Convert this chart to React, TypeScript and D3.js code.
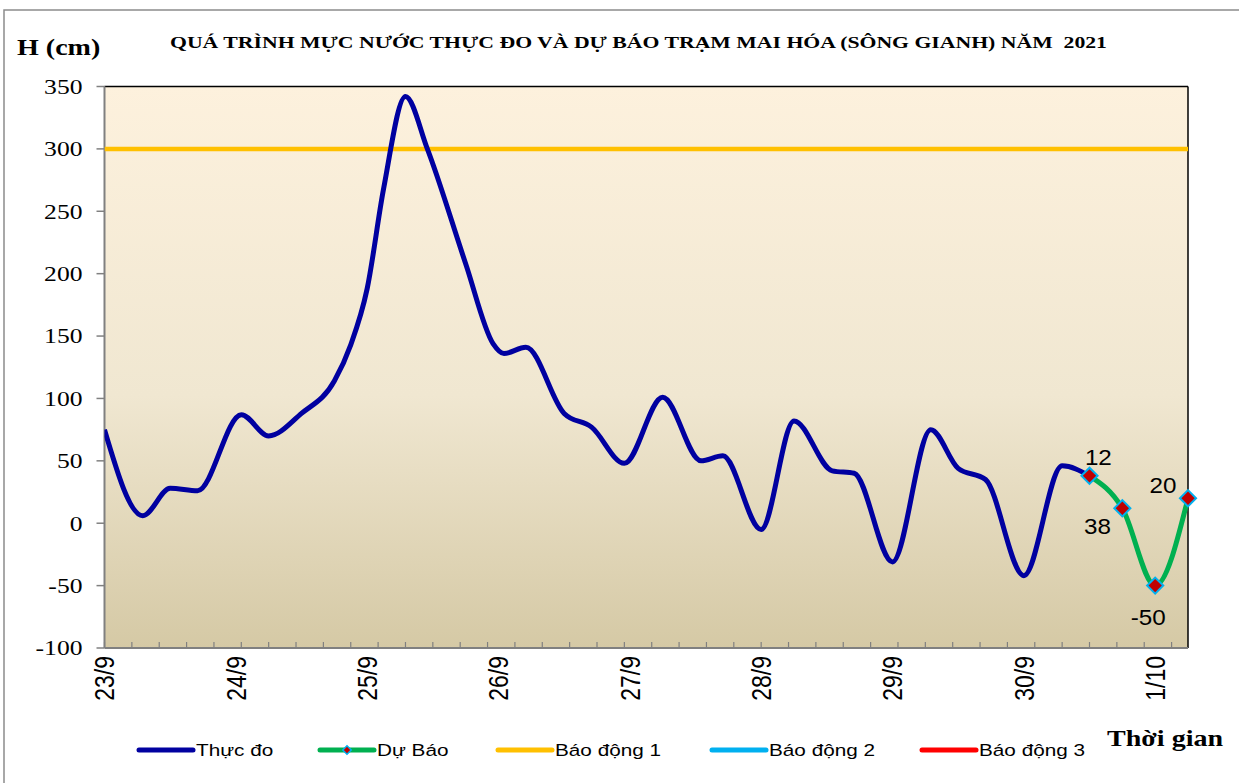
import React from 'react';
import * as d3 from 'd3';

// hours counted from 23/9 00h
const obsHours = [0, 7, 12, 17, 25, 30, 36, 42, 45, 48, 51, 55, 59, 66, 71, 73, 77, 84, 89, 95, 102, 109, 113, 120, 126, 133, 137, 144, 151, 156, 161, 168, 175, 180];
const obsValues = [75, 6, 28, 26, 87, 70, 88, 114, 143, 188, 268, 342, 300, 208, 144, 136, 141, 88, 77, 48, 101, 50, 54, -5, 82, 42, 40, -31, 75, 44, 35, -42, 46, 38];

const fcHours = [180, 186, 192, 198];
const fcValues = [38, 12, -50, 20];

const alarm1 = 300;

const dayLabels = ['23/9', '24/9', '25/9', '26/9', '27/9', '28/9', '29/9', '30/9', '1/10'];
const yTicks = [350, 300, 250, 200, 150, 100, 50, 0, -50, -100];

const legendNames = ['Thực đo', 'Dự Báo', 'Báo động 1', 'Báo động 2', 'Báo động 3'];
const legendColors = ['#0000A0', '#00B050', '#FFC000', '#00B0F0', '#FF0000'];

const W = 1239;
const H = 783;
const L = 104.5;
const R = 1188;
const T = 86.5;
const B = 648;
const SX = 1.22; // picture is stretched horizontally
const SERIF = '"Liberation Serif", "Times New Roman", serif';
const SANS = '"Liberation Sans", Arial, sans-serif';

// where the data labels were dragged to, relative to each forecast point
const labelOffsets = [
  [8, 58],
  [-24, -43],
  [-7, 39],
  [-25, -5],
];
const legendX = [139, 320, 498, 712, 922];

const App: React.FC = () => {
  const x = d3.scaleLinear().domain([0, 198]).range([L, R]);
  const y = d3.scaleLinear().domain([-100, 350]).range([B, T]);

  const line = d3
    .line<number>()
    .x((_, i) => x(obsHours[i]))
    .y((d) => y(d))
    .curve(d3.curveMonotoneX);

  const fcLine = d3
    .line<number>()
    .x((_, i) => x(fcHours[i]))
    .y((d) => y(d))
    .curve(d3.curveMonotoneX);

  const diamond = d3.symbol().type(d3.symbolSquare).size(130)();
  const smallDiamond = d3.symbol().type(d3.symbolSquare).size(36)();
  const minorTicks = d3.range(0, 199, 5);

  return (
    <svg width={W} height={H} style={{ position: 'absolute', left: 0, top: 0 }}>
      <defs>
        <linearGradient id="bg" x1="0" y1="0" x2="0" y2="1">
          <stop offset="0%" stopColor="#FDF1DD" />
          <stop offset="55%" stopColor="#F0E7D1" />
          <stop offset="100%" stopColor="#D5C9A5" />
        </linearGradient>
        <clipPath id="plot">
          <rect x={L} y={T - 5} width={R - L + 6} height={B - T + 5} />
        </clipPath>
      </defs>
      <rect x={0} y={0} width={W} height={H} fill="#fff" />
      <rect x={4} y={10} width={W + 20} height={H + 20} fill="none" stroke="#8c8c8c" strokeWidth={1.5} />

      <rect x={L} y={T} width={R - L} height={B - T} fill="url(#bg)" />

      {/* frame */}
      <line x1={L} x2={R} y1={T} y2={T} stroke="#000" strokeWidth={1.5} />
      <line x1={R} x2={R} y1={T} y2={B} stroke="#000" strokeWidth={1.5} />
      <line x1={L} x2={L} y1={T} y2={B} stroke="#808080" strokeWidth={2} />
      <line x1={L} x2={R} y1={B} y2={B} stroke="#808080" strokeWidth={2} />

      {yTicks.map((t) => (
        <g key={t}>
          <line x1={L - 8} x2={L} y1={y(t)} y2={y(t)} stroke="#808080" strokeWidth={1.5} />
          <text
            transform={`translate(${L - 22},${y(t)}) scale(${SX},1)`}
            dy="0.35em"
            textAnchor="end"
            fontFamily={SERIF}
            fontSize={21}
            fill="#000"
          >
            {t}
          </text>
        </g>
      ))}

      {minorTicks.map((h) => (
        <line key={h} x1={x(h)} x2={x(h)} y1={B} y2={B - 6} stroke="#808080" strokeWidth={1.2} />
      ))}

      {dayLabels.map((d, i) => (
        <text
          key={d}
          transform={`translate(${x(i * 24)},656) scale(1.2,1) rotate(-90)`}
          dy="0.36em"
          textAnchor="end"
          fontFamily={SANS}
          fontSize={23}
          fill="#000"
        >
          {d}
        </text>
      ))}

      <g clipPath="url(#plot)">
        <line x1={L} x2={R} y1={y(alarm1)} y2={y(alarm1)} stroke="#FFC000" strokeWidth={4.5} />
        <path d={line(obsValues) || ''} fill="none" stroke="#0000A0" strokeWidth={5} strokeLinejoin="round" />
      </g>
      <path d={fcLine(fcValues) || ''} fill="none" stroke="#00B050" strokeWidth={5} strokeLinejoin="round" />
      {fcValues.map((v, i) => (
        <path
          key={i}
          d={diamond || ''}
          transform={`translate(${x(fcHours[i])},${y(v)}) rotate(45)`}
          fill="#C00000"
          stroke="#00B0F0"
          strokeWidth={2}
        />
      ))}
      {fcValues.map((v, i) => (
        <text
          key={'l' + i}
          transform={`translate(${x(fcHours[i]) + labelOffsets[i][0]},${y(v) + labelOffsets[i][1]}) scale(1.1,1)`}
          textAnchor="middle"
          fontFamily={SANS}
          fontSize={22}
          fill="#000"
        >
          {v}
        </text>
      ))}

      {/* titles */}
      <text
        transform={`translate(17,55) scale(${SX},1)`}
        fontFamily={SERIF}
        fontWeight="bold"
        fontSize={23}
        fill="#000"
      >
        H (cm)
      </text>
      <text
        x={170}
        y={48}
        textLength={937}
        lengthAdjust="spacingAndGlyphs"
        fontFamily={SERIF}
        fontWeight="bold"
        fontSize={16}
        fill="#000"
        style={{ whiteSpace: 'pre' }}
      >
        {'QUÁ TRÌNH MỰC NƯỚC THỰC ĐO VÀ DỰ BÁO TRẠM MAI HÓA (SÔNG GIANH) NĂM \u00A02021'}
      </text>
      <text
        transform={`translate(1107,746) scale(${SX},1)`}
        fontFamily={SERIF}
        fontWeight="bold"
        fontSize={23}
        fill="#000"
      >
        Thời gian
      </text>

      {/* legend */}
      {legendNames.map((n, i) => (
        <g key={n}>
          <line
            x1={legendX[i]}
            x2={legendX[i] + 54}
            y1={750}
            y2={750}
            stroke={legendColors[i]}
            strokeWidth={5}
            strokeLinecap="round"
          />
          {i === 1 && (
            <path
              d={smallDiamond || ''}
              transform={`translate(${legendX[i] + 27},750) rotate(45)`}
              fill="#C00000"
              stroke="#00B0F0"
              strokeWidth={1.5}
            />
          )}
          <text
            transform={`translate(${legendX[i] + 57},756) scale(${SX},1)`}
            fontFamily={SANS}
            fontSize={17}
            fill="#000"
          >
            {n}
          </text>
        </g>
      ))}
    </svg>
  );
};

export default App;
